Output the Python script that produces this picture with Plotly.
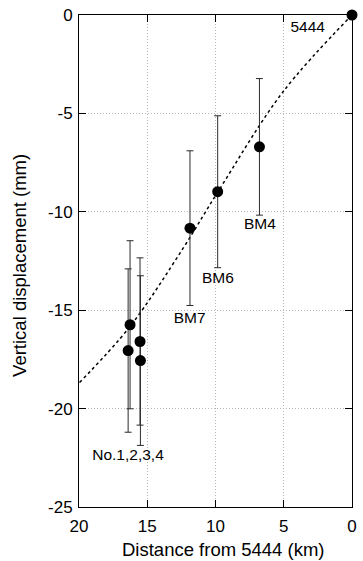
import plotly.graph_objects as go

# Benchmark observations
site_names = ["BM4", "BM6", "BM7", "No.1", "No.2", "No.3", "No.4"]
distance_km = [6.78, 9.84, 11.87, 16.26, 16.40, 15.53, 15.50]
displacement_mm = [-6.70, -8.98, -10.83, -15.74, -17.05, -16.59, -17.56]
error_mm = [3.47, 3.86, 3.93, 4.27, 4.15, 4.25, 4.31]

# Reference station
ref_distance = [0.0]
ref_displacement = [0.0]

# Model curve
curve_x = [0.0, 5.05, 9.82, 12.38, 16.29, 20.0]
curve_y = [0.0, -3.90, -8.98, -11.86, -15.85, -18.70]

# Labels
label_text = ["5444", "BM4", "BM6", "BM7", "No.1,2,3,4"]
label_x = [3.25, 6.75, 9.82, 11.89, 16.41]
label_y = [-0.66, -10.68, -13.42, -15.46, -22.42]

x_ticks = [20, 15, 10, 5, 0]
y_ticks = [0, -5, -10, -15, -20, -25]

FONT = "Liberation Sans, Arial, Helvetica, sans-serif"

fig = go.Figure()
fig.add_trace(go.Scatter(
    x=curve_x, y=curve_y, mode="lines",
    line=dict(color="black", width=1.5, dash="dot", shape="spline", smoothing=1.0),
    hoverinfo="skip", cliponaxis=True,
))
fig.add_trace(go.Scatter(
    x=distance_km, y=displacement_mm, mode="markers",
    marker=dict(color="black", size=11),
    error_y=dict(type="data", array=error_mm, visible=True,
                 color="#2a2a2a", thickness=1, width=3.5),
    text=site_names, cliponaxis=False,
))
fig.add_trace(go.Scatter(
    x=ref_distance, y=ref_displacement, mode="markers",
    marker=dict(color="black", size=11), cliponaxis=False,
))
fig.add_trace(go.Scatter(
    x=label_x, y=label_y, mode="text", text=label_text,
    textfont=dict(family=FONT, size=15.5, color="black"),
    textposition="middle center", cliponaxis=False,
))

axis_common = dict(
    showline=True, linecolor="black", linewidth=1, mirror="ticks",
    ticks="inside", ticklen=7, tickcolor="black", tickwidth=1,
    showgrid=True, gridcolor="#b8b8b8", griddash="1px,2px", gridwidth=1,
    zeroline=False, automargin=False,
    tickfont=dict(family=FONT, size=17, color="black"),
)

fig.update_layout(
    width=363, height=561,
    margin=dict(l=79, r=11, t=15, b=54),
    paper_bgcolor="white", plot_bgcolor="white",
    showlegend=False,
    xaxis=dict(range=[20, 0], tickvals=x_ticks, ticktext=[str(v) for v in x_ticks],
               ticklabelstandoff=4, **axis_common),
    yaxis=dict(range=[-25, 0], tickvals=y_ticks, ticktext=[str(v) for v in y_ticks],
               ticklabelstandoff=2, **axis_common),
    annotations=[
        dict(text="Distance from 5444 (km)", xref="paper", yref="paper",
             x=0.53, y=-0.0854, xanchor="center", yanchor="middle", showarrow=False,
             font=dict(family=FONT, size=18.5, color="black")),
        dict(text="Vertical displacement (mm)", xref="paper", yref="paper",
             x=-0.218, y=0.491, xanchor="center", yanchor="middle", showarrow=False,
             textangle=-90, font=dict(family=FONT, size=18.5, color="black")),
    ],
)

# Remove the default page margin so the 363x561 figure fills the window exactly.
fig.write_html(
    "out.html",
    config={"displayModeBar": False},
    post_script="document.body.style.margin='0px';document.body.style.overflow='hidden';",
)
